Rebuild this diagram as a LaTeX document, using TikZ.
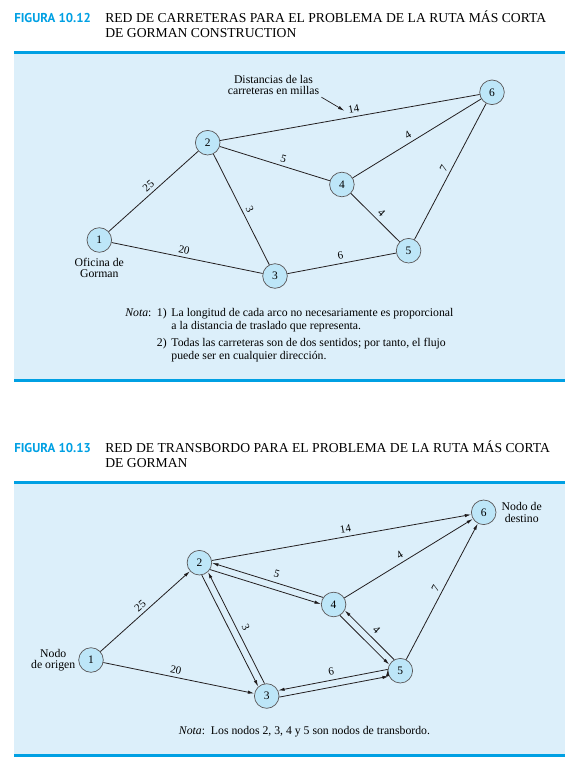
\documentclass[tikz,border=0pt]{standalone}
\usepackage{fontspec}
\setmainfont{Liberation Serif}
\newfontfamily\figfont{PT Sans}
\usetikzlibrary{positioning,arrows.meta}
\definecolor{panelblue}{RGB}{220,239,250}
\definecolor{nodeblue}{RGB}{189,230,248}
\definecolor{ruleblue}{RGB}{0,160,227}
\definecolor{inkgray}{RGB}{35,31,32}

\begin{document}
\begin{tikzpicture}[x=1bp, y=-1bp, auto, semithick,
  >={Latex[length=6.5bp,width=3.3bp]},
  state/.style={circle, draw=inkgray!75, fill=nodeblue, line width=0.7bp, minimum size=24.6bp,
    inner sep=0pt, font=\fontsize{11.5}{12}\selectfont},
  lbl/.style={sloped, inner sep=3.5bp, font=\fontsize{11}{12}\selectfont},
  lbl2/.style={lbl, inner sep=8.5bp},
  txt/.style={inner sep=2bp, align=center, font=\fontsize{11.8}{11.6}\selectfont},
  road/.style={draw=inkgray, line width=0.8bp},
  bluerule/.style={draw=ruleblue, line width=2.8bp},
  fignum/.style={anchor=base west, inner sep=0pt, text=ruleblue,
    font=\figfont\bfseries\fontsize{12.9}{15}\selectfont},
  figtitle/.style={anchor=base west, inner sep=0pt, font=\fontsize{13.7}{15}\selectfont}]
\useasboundingbox (0,0) rectangle (581,771);

% figura 10.12
\node[fignum] (fig1) at (14,22.7) {FIGURA 10.12};
\node[figtitle] (title1) at (105,22.7) {\begin{tabular}[t]{@{}l@{}}
  RED DE CARRETERAS PARA EL PROBLEMA DE LA RUTA MÁS CORTA\\
  DE GORMAN CONSTRUCTION\end{tabular}};
\fill[panelblue] (14,54) rectangle (565,379);
\draw[bluerule] (14,52.5) -- (565,52.5);
\draw[bluerule] (14,380.3) -- (565,380.3);

\node[state] (t1) at (99.3,240) {1};
\node[state] (t2) at (207.7,142.7) {2};
\node[state] (t3) at (275,276) {3};
\node[state] (t4) at (341.9,184.5) {4};
\node[state] (t5) at (408.6,250.7) {5};
\node[state] (t6) at (492,92.3) {6};

\path[road] (t1) edge node[lbl] {25} (t2)
      (t1) edge node[lbl, pos=.47] {20} (t3)
      (t2) edge node[lbl, pos=.52] (d14) {14} (t6)
      (t2) edge node[lbl, pos=.56] {5} (t4)
      (t2) edge node[lbl, pos=.53] {3} (t3)
      (t4) edge node[lbl, pos=.46] {4} (t6)
      (t4) edge node[lbl, pos=.52] {4} (t5)
      (t3) edge node[lbl] {6} (t5)
      (t5) edge node[lbl] {7} (t6);

\node[txt, below=2.8bp of t1] (office) {Oficina de\\Gorman};
\node[txt] (dist) at (273.5,85) {Distancias de las\\carreteras en millas};
\draw[->, draw=inkgray, line width=0.7bp] (dist.south east) -- (d14.west);

\node[anchor=base west, inner sep=0pt, font=\fontsize{11.8}{13.3}\selectfont] (note1) at (125,316.5)
  {\begin{tabular}[t]{@{}l@{\hspace{5.5bp}}l@{\hspace{4.7bp}}l@{}}
  \textit{Nota}: & 1) & La longitud de cada arco no necesariamente es proporcional\\
   & & a la distancia de traslado que representa.\\[3.4bp]
   & 2) & Todas las carreteras son de dos sentidos; por tanto, el flujo\\
   & & puede ser en cualquier dirección.
  \end{tabular}};

% figura 10.13
\node[fignum] (fig2) at (14,452.9) {FIGURA 10.13};
\node[figtitle] (title2) at (105,452.9) {\begin{tabular}[t]{@{}l@{}}
  RED DE TRANSBORDO PARA EL PROBLEMA DE LA RUTA MÁS CORTA\\
  DE GORMAN\end{tabular}};
\fill[panelblue] (14,484.2) rectangle (565,754.5);
\draw[bluerule] (14,482.7) -- (565,482.7);
\draw[bluerule] (14,755.8) -- (565,755.8);

\node[state] (s1) at (91,660) {1};
\node[state] (s2) at (199.4,562.7) {2};
\node[state] (s3) at (266.7,696) {3};
\node[state] (s4) at (333.6,604.5) {4};
\node[state] (s5) at (400.3,670.7) {5};
\node[state] (s6) at (483.7,512.3) {6};

\path[road, ->] (s1) edge node[lbl] {25} (s2)
      (s1) edge node[lbl, pos=.47] {20} (s3)
      (s2) edge node[lbl, pos=.52] {14} (s6)
      (s4) edge node[lbl, pos=.46] {4} (s6)
      (s5) edge node[lbl] {7} (s6)
      (s2.-33.3) edge (s4.178.7)
      (s4.146.7) edge (s2.-1.3)
      (s2.-79.2) edge (s3.132.8)
      (s3.100.8) edge (s2.-47.2)
      (s4.-60.8) edge (s5.151.2)
      (s5.119.2) edge (s4.-28.8)
      (s3.-5.3) edge (s5.206.7)
      (s5.174.7) edge (s3.26.7);
\path (s2) -- node[lbl2, pos=.56] {5} (s4)
      (s2) -- node[lbl2, pos=.53] {3} (s3)
      (s4) -- node[lbl2, pos=.52] {4} (s5)
      (s3) -- node[lbl2] {6} (s5);

\node[txt, left=0.8bp of s1] (origin) {Nodo\\de origen};
\node[txt, right=3bp of s6] (dest) {Nodo de\\destino};

\node[inner sep=0pt, font=\fontsize{11.8}{13.3}\selectfont] (note2) at (304.5,731.5)
  {\textit{Nota}:\ \ Los nodos 2, 3, 4 y 5 son nodos de transbordo.};
\end{tikzpicture}
\end{document}
